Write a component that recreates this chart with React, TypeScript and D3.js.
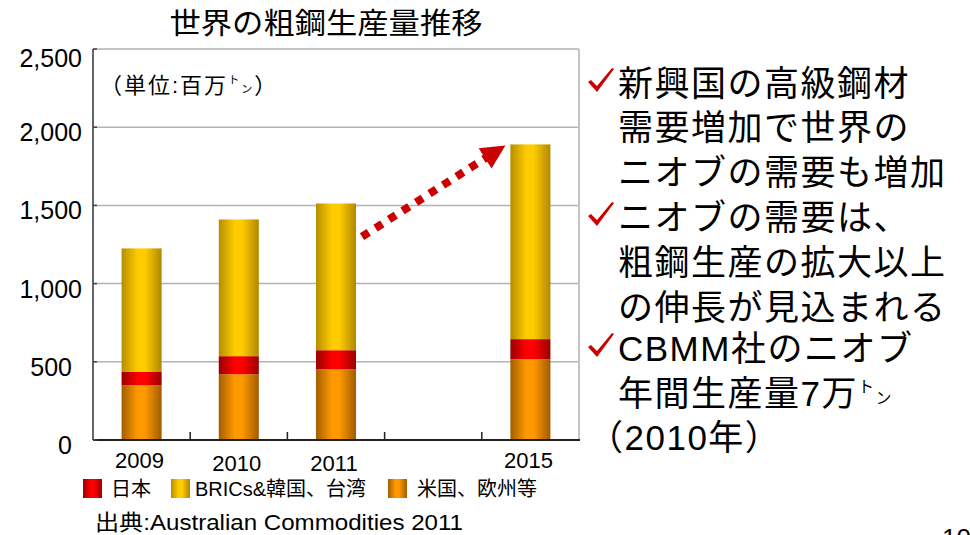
import React from 'react';
import * as d3 from 'd3';

// slots on the x axis (the empty one is the gap before 2015)
const slots = ['2009', '2010', '2011', '', '2015'];
const years = ['2009', '2010', '2011', '2015'];

// crude steel production, million tonnes
const usEurope = [351, 421, 453, 517];
const japan = [84, 115, 121, 128];
const brics = [790, 874, 938, 1245];

const yTicks = [0, 500, 1000, 1500, 2000, 2500];

const legendLabels = { japan: '日本', brics: 'BRICs&韓国、台湾', usEurope: '米国、欧州等' };
const legendOrder = ['japan', 'brics', 'usEurope'];

const notes = [
  { text: '新興国の高級鋼材', check: true },
  { text: '需要増加で世界の', check: false },
  { text: 'ニオブの需要も増加', check: false },
  { text: 'ニオブの需要は、', check: true },
  { text: '粗鋼生産の拡大以上', check: false },
  { text: 'の伸長が見込まれる', check: false },
  { text: 'CBMM社のニオブ', check: true },
  { text: '年間生産量7万', check: false, ton: true },
  { text: '（2010年）', check: false },
];

const FONT = "'Liberation Sans', Arial, 'Noto Sans CJK JP', sans-serif";
const W = 970;
const H = 535;

const gradients = {
  brics: ['#b58e00', '#ffcc00', '#ffcc00', '#b08800'],
  japan: ['#990000', '#ff0000', '#ff0000', '#990000'],
  usEurope: ['#a35e00', '#ff9900', '#ff9900', '#a05c00'],
};

const App = () => {
  const plot = { left: 93, right: 579, top: 49, bottom: 440 };

  const x = d3.scaleBand()
    .domain(slots)
    .range([plot.left, plot.right])
    .paddingInner(0.588)
    .paddingOuter(0.294);

  const y = d3.scaleLinear()
    .domain([0, 2500])
    .range([plot.bottom, plot.top]);

  const table = years.map((yr, i) => ({
    year: yr,
    usEurope: usEurope[i],
    japan: japan[i],
    brics: brics[i],
  }));

  const stack = d3.stack().keys(['usEurope', 'japan', 'brics']);
  const layers = stack(table);

  const fmt = d3.format(',');
  const bw = x.bandwidth();
  const gapHalf = (x.step() - bw) / 2;

  // arrow from beside the 2011 bar up to the top of the 2015 bar
  const totals = table.map(d => d.usEurope + d.japan + d.brics);
  const start = [x('2011') + bw + 6, y(1300)];
  const tip = [x('2015') - 5, y(totals[3]) + 1];
  const dx = tip[0] - start[0];
  const dy = tip[1] - start[1];
  const len = Math.hypot(dx, dy);
  const ux = dx / len;
  const uy = dy / len;
  const headLen = 24;
  const headHalf = 12;
  const base = [tip[0] - ux * headLen, tip[1] - uy * headLen];
  const lineEnd = [tip[0] - ux * (headLen - 2), tip[1] - uy * (headLen - 2)];
  const head = [
    tip,
    [base[0] - uy * headHalf, base[1] + ux * headHalf],
    [base[0] + uy * headHalf, base[1] - ux * headHalf],
  ];

  const checkPath = (cx, by) =>
    `M${cx},${by - 14} L${cx + 3},${by - 16} L${cx + 9},${by - 10} L${cx + 24},${by - 28} ` +
    `L${cx + 26},${by - 27} L${cx + 9},${by - 4} Z`;

  return (
    <svg
      width={W}
      height={H}
      style={{ position: 'absolute', left: 0, top: 0, background: '#fff' }}
      fontFamily={FONT}
    >
      <defs>
        {Object.entries(gradients).map(([k, c]) => (
          <linearGradient key={k} id={`g-${k}`} x1="0" x2="1" y1="0" y2="0">
            <stop offset="0%" stopColor={c[0]} />
            <stop offset="40%" stopColor={c[1]} />
            <stop offset="58%" stopColor={c[2]} />
            <stop offset="100%" stopColor={c[3]} />
          </linearGradient>
        ))}
        <linearGradient id="g-rule" x1="0" x2="1" y1="0" y2="0">
          <stop offset="0%" stopColor="#9aa8d8" />
          <stop offset="60%" stopColor="#5a70c0" />
          <stop offset="100%" stopColor="#1a2f8f" />
        </linearGradient>
      </defs>

      {/* title */}
      <text x={326} y={34} fontSize={29} textAnchor="middle" textLength={313}
        lengthAdjust="spacingAndGlyphs" fill="#000">世界の粗鋼生産量推移</text>

      {/* gridlines */}
      {yTicks.filter(t => t > 0 && t < 2500).map(t => (
        <line key={t} x1={plot.left} x2={plot.right} y1={y(t)} y2={y(t)}
          stroke="#b4b4b4" strokeWidth={1.5} />
      ))}
      <line x1={plot.left} x2={plot.right} y1={y(2500)} y2={y(2500)} stroke="#8a8a8a" strokeWidth={1} />
      <line x1={plot.right} x2={plot.right} y1={y(2500)} y2={y(0)} stroke="#c4c4c4" strokeWidth={2} />

      {/* bars */}
      {layers.map(layer => (
        <g key={layer.key} fill={`url(#g-${layer.key})`}>
          {layer.map(d => (
            <rect key={d.data.year} x={x(d.data.year)} width={bw}
              y={y(d[1])} height={y(d[0]) - y(d[1])} />
          ))}
        </g>
      ))}

      {/* axes */}
      <line x1={plot.left} x2={plot.left} y1={y(2500)} y2={y(0)} stroke="#333" strokeWidth={1.5} />
      <line x1={plot.left} x2={plot.right + 1} y1={y(0)} y2={y(0)} stroke="#222" strokeWidth={2} />
      {yTicks.map(t => (
        <line key={t} x1={plot.left} x2={plot.left + 4} y1={y(t)} y2={y(t)} stroke="#444" strokeWidth={1.5} />
      ))}
      {slots.slice(1).map(s => (
        <line key={s || 'gap'} x1={x(s) - gapHalf} x2={x(s) - gapHalf}
          y1={y(0)} y2={y(0) - 8} stroke="#222" strokeWidth={1.5} />
      ))}

      {/* y tick labels */}
      {yTicks.map(t => (
        <text key={t} x={t >= 1000 ? 82 : 72} y={Math.max(y(t) + 14, 67)}
          fontSize={25} textAnchor="end" fill="#000">{fmt(t)}</text>
      ))}

      {/* x tick labels */}
      {years.map((yr, i) => (
        <text key={yr} x={x(yr) + bw / 2 - 2} y={i === 1 || i === 2 ? 471 : 468}
          fontSize={22} textAnchor="middle" fill="#000">{yr}</text>
      ))}

      {/* unit */}
      <text x={100} y={93} fontSize={22} letterSpacing={2} fill="#000">
        （単位:百万<tspan fontSize={11} dy={-9}>ト</tspan><tspan fontSize={11} dy={9}>ン</tspan>）
      </text>

      {/* growth arrow */}
      <line x1={start[0]} y1={start[1]} x2={lineEnd[0]} y2={lineEnd[1]}
        stroke="#cc0000" strokeWidth={8} strokeDasharray="8,8" />
      <polygon points={head.map(p => p.join(',')).join(' ')} fill="#cc0000" />

      {/* legend */}
      {legendOrder.map((k, i) => {
        const sx = [83, 171, 388][i];
        const tx = [111, 195, 417][i];
        return (
          <g key={k}>
            <rect x={sx} y={479} width={19} height={19} fill={`url(#g-${k})`} />
            <text x={tx} y={496} fontSize={20} fill="#000">{legendLabels[k]}</text>
          </g>
        );
      })}

      {/* source */}
      <text x={95} y={530} fontSize={22} textLength={368} lengthAdjust="spacingAndGlyphs" fill="#000">
        出典:Australian Commodities 2011
      </text>

      {/* notes on the right */}
      {notes.map((n, i) => {
        const by = [96, 140, 185, 230, 275, 320, 361, 406, 450][i];
        const tx = n.text.startsWith('（') ? 588 : 618;
        return (
          <g key={i}>
            {n.check && <path d={checkPath(588, by)} fill="#cc0000" />}
            <text x={tx} y={by} fontSize={35} letterSpacing={1.5} fill="#000">
              {n.text}
              {n.ton && <tspan fontSize={16} dy={-14}>ト</tspan>}
              {n.ton && <tspan fontSize={16} dy={12}>ン</tspan>}
            </text>
          </g>
        );
      })}

      {/* slide footer (page number is cut by the page edge, as in the slide) */}
      <line x1={0} x2={915} y1={533} y2={533} stroke="url(#g-rule)" strokeWidth={2} />
      <text x={942} y={547} fontSize={26} fill="#000">10</text>
    </svg>
  );
};

export default App;
